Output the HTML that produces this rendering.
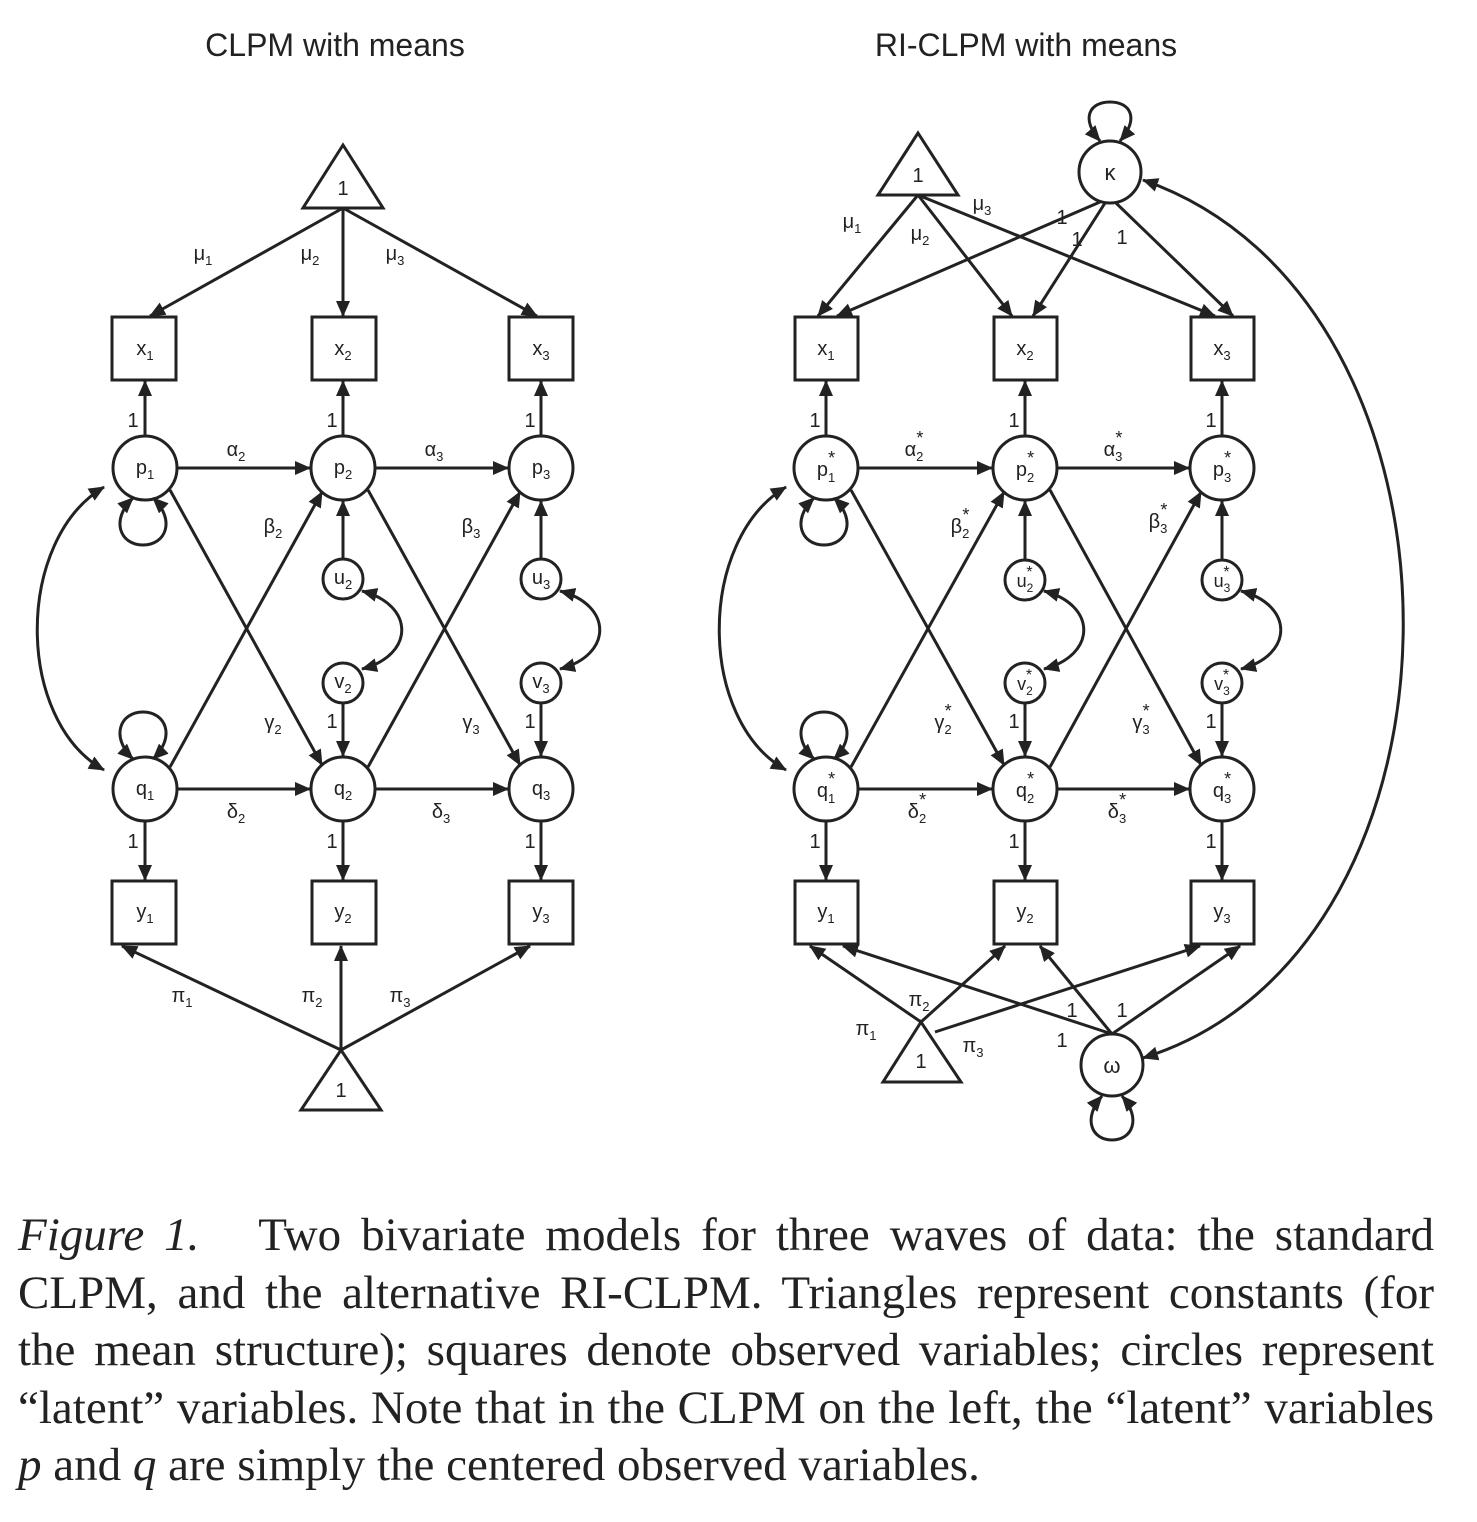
<!DOCTYPE html>
<html><head><meta charset="utf-8"><style>
body{margin:0;background:#fff;width:1477px;height:1522px;overflow:hidden}
svg{position:absolute;left:0;top:0}
.cap{position:absolute;left:18px;top:1207px;width:1416px;font-family:"Liberation Serif",serif;font-size:47px;line-height:57.5px;color:#222}
.cap div{text-align:justify;text-align-last:justify;white-space:nowrap}
.cap div.l{text-align-last:left}
</style></head><body>
<svg width="1477" height="1200" viewBox="0 0 1477 1200" font-family="Liberation Sans, DejaVu Sans, sans-serif" fill="#222">
<defs>
<marker id="b" markerWidth="16" markerHeight="14" refX="15" refY="7" orient="auto-start-reverse" markerUnits="userSpaceOnUse"><path d="M0,0 L16,7 L0,14 z" fill="#222"/></marker></defs>
<text x="335" y="56" font-size="32" text-anchor="middle">CLPM with means</text>
<text x="1026" y="56" font-size="32" text-anchor="middle">RI-CLPM with means</text>
<g stroke="#222" stroke-width="3" fill="none">
<polygon points="343,145 303,208 383,208" fill="#fff"/>
<polygon points="341,1050 301,1110 381,1110" fill="#fff"/>
<rect x="112" y="317" width="64" height="63"/><rect x="312" y="317" width="64" height="63"/><rect x="509" y="317" width="64" height="63"/>
<rect x="112" y="881" width="64" height="63"/><rect x="312" y="881" width="64" height="63"/><rect x="509" y="881" width="64" height="63"/>
<circle cx="145" cy="468" r="32"/><circle cx="343" cy="468" r="32"/><circle cx="541" cy="468" r="32"/>
<circle cx="145" cy="789" r="32"/><circle cx="343" cy="789" r="32"/><circle cx="541" cy="789" r="32"/>
<circle cx="343" cy="579" r="20"/><circle cx="343" cy="683" r="20"/><circle cx="541" cy="579" r="20"/><circle cx="541" cy="683" r="20"/>
<g marker-end="url(#b)">
<line x1="343" y1="208" x2="150" y2="316"/><line x1="343" y1="208" x2="343" y2="316"/><line x1="343" y1="208" x2="537" y2="316"/>
<line x1="145" y1="436" x2="145" y2="381"/><line x1="343" y1="436" x2="343" y2="381"/><line x1="541" y1="436" x2="541" y2="381"/>
<line x1="177" y1="468" x2="310" y2="468"/><line x1="375" y1="468" x2="508" y2="468"/>
<line x1="177" y1="789" x2="310" y2="789"/><line x1="375" y1="789" x2="508" y2="789"/>
<line x1="170" y1="490" x2="322" y2="765"/><line x1="170" y1="767" x2="322" y2="492"/>
<line x1="368" y1="490" x2="520" y2="765"/><line x1="368" y1="767" x2="520" y2="492"/>
<line x1="343" y1="559" x2="343" y2="501"/><line x1="541" y1="559" x2="541" y2="501"/>
<line x1="343" y1="703" x2="343" y2="756"/><line x1="541" y1="703" x2="541" y2="756"/>
<line x1="145" y1="821" x2="145" y2="880"/><line x1="343" y1="821" x2="343" y2="880"/><line x1="541" y1="821" x2="541" y2="880"/>
<line x1="341" y1="1050" x2="122" y2="946"/><line x1="341" y1="1050" x2="341" y2="946"/><line x1="341" y1="1050" x2="530" y2="946"/>
</g>
<g marker-start="url(#b)" marker-end="url(#b)">
<path d="M104,487 C15,540 15,720 104,770"/>
<path d="M362,591 C415,605 415,655 362,669"/><path d="M560,591 C613,605 613,655 560,669"/>
<path d="M133,498 C110,520 120,545 143,545 C166,545 176,520 153,498"/>
<path d="M133,759 C110,737 120,712 143,712 C166,712 176,737 153,759"/>
<path d="M814,498 C791,520 801,545 824,545 C847,545 857,520 834,498"/>
<path d="M814,759 C791,737 801,712 824,712 C847,712 857,737 834,759"/>
<path d="M1044,591 C1097,605 1097,655 1044,669"/><path d="M1241,591 C1294,605 1294,655 1241,669"/>
<path d="M1100,141 C1080,118 1090,102 1110,102 C1130,102 1140,118 1120,141"/>
<path d="M1102,1096 C1082,1119 1092,1140 1112,1140 C1132,1140 1142,1119 1122,1096"/>
<path d="M1143,180 C1490,300 1490,950 1143,1058"/>
<path d="M786,487 C697,540 697,720 786,770"/>
</g>
<polygon points="918,133 878,195 958,195" fill="#fff"/>
<polygon points="921,1022 883,1082 961,1082" fill="#fff"/>
<circle cx="1110" cy="172" r="31" fill="#fff"/><circle cx="1112" cy="1065" r="31" fill="#fff"/>
<rect x="795" y="317" width="63" height="63"/><rect x="994" y="317" width="63" height="63"/><rect x="1191" y="317" width="63" height="63"/>
<rect x="795" y="881" width="63" height="63"/><rect x="994" y="881" width="63" height="63"/><rect x="1191" y="881" width="63" height="63"/>
<circle cx="826" cy="468" r="32"/><circle cx="1025" cy="468" r="32"/><circle cx="1222" cy="468" r="32"/>
<circle cx="826" cy="789" r="32"/><circle cx="1025" cy="789" r="32"/><circle cx="1222" cy="789" r="32"/>
<circle cx="1025" cy="580" r="20"/><circle cx="1025" cy="683" r="20"/><circle cx="1222" cy="580" r="20"/><circle cx="1222" cy="683" r="20"/>
<g marker-end="url(#b)">
<line x1="918" y1="195" x2="818" y2="316"/><line x1="918" y1="195" x2="1012" y2="316"/><line x1="918" y1="195" x2="1215" y2="316"/>
<line x1="1100" y1="202" x2="837" y2="316"/><line x1="1105" y1="203" x2="1033" y2="316"/><line x1="1116" y1="203" x2="1233" y2="316"/>
<line x1="826" y1="436" x2="826" y2="381"/><line x1="1025" y1="436" x2="1025" y2="381"/><line x1="1222" y1="436" x2="1222" y2="381"/>
<line x1="858" y1="468" x2="992" y2="468"/><line x1="1057" y1="468" x2="1189" y2="468"/>
<line x1="858" y1="789" x2="992" y2="789"/><line x1="1057" y1="789" x2="1189" y2="789"/>
<line x1="851" y1="490" x2="1004" y2="765"/><line x1="851" y1="767" x2="1004" y2="492"/>
<line x1="1050" y1="490" x2="1201" y2="765"/><line x1="1050" y1="767" x2="1201" y2="492"/>
<line x1="1025" y1="560" x2="1025" y2="501"/><line x1="1222" y1="560" x2="1222" y2="501"/>
<line x1="1025" y1="703" x2="1025" y2="756"/><line x1="1222" y1="703" x2="1222" y2="756"/>
<line x1="826" y1="821" x2="826" y2="880"/><line x1="1025" y1="821" x2="1025" y2="880"/><line x1="1222" y1="821" x2="1222" y2="880"/>
<line x1="921" y1="1022" x2="810" y2="946"/><line x1="921" y1="1022" x2="1005" y2="946"/><line x1="935" y1="1032" x2="1200" y2="946"/>
<line x1="1112" y1="1034" x2="843" y2="946"/><line x1="1112" y1="1034" x2="1040" y2="946"/><line x1="1112" y1="1034" x2="1240" y2="946"/>
</g>
</g>
<g font-size="20" text-anchor="middle">
<text x="343" y="195">1</text><text x="341" y="1097">1</text><text x="918" y="182">1</text><text x="921" y="1068">1</text>
<text x="1110" y="180" font-size="22">κ</text><text x="1112" y="1073" font-size="22">ω</text>
<text x="145" y="355">x<tspan font-size="13" dy="5">1</tspan></text><text x="343" y="355">x<tspan font-size="13" dy="5">2</tspan></text><text x="541" y="355">x<tspan font-size="13" dy="5">3</tspan></text>
<text x="145" y="918">y<tspan font-size="13" dy="5">1</tspan></text><text x="343" y="918">y<tspan font-size="13" dy="5">2</tspan></text><text x="541" y="918">y<tspan font-size="13" dy="5">3</tspan></text>
<text x="145" y="474">p<tspan font-size="13" dy="5">1</tspan></text><text x="343" y="474">p<tspan font-size="13" dy="5">2</tspan></text><text x="541" y="474">p<tspan font-size="13" dy="5">3</tspan></text>
<text x="145" y="795">q<tspan font-size="13" dy="5">1</tspan></text><text x="343" y="795">q<tspan font-size="13" dy="5">2</tspan></text><text x="541" y="795">q<tspan font-size="13" dy="5">3</tspan></text>
<text x="343" y="584">u<tspan font-size="13" dy="5">2</tspan></text><text x="541" y="584">u<tspan font-size="13" dy="5">3</tspan></text>
<text x="343" y="688">v<tspan font-size="13" dy="5">2</tspan></text><text x="541" y="688">v<tspan font-size="13" dy="5">3</tspan></text>
<text x="203" y="260">μ<tspan font-size="13" dy="5">1</tspan></text><text x="310" y="260">μ<tspan font-size="13" dy="5">2</tspan></text><text x="395" y="260">μ<tspan font-size="13" dy="5">3</tspan></text>
<text x="133" y="427">1</text><text x="332" y="427">1</text><text x="530" y="427">1</text>
<text x="133" y="848">1</text><text x="332" y="848">1</text><text x="530" y="848">1</text>
<text x="332" y="728">1</text><text x="530" y="728">1</text>
<text x="236" y="456">α<tspan font-size="13" dy="5">2</tspan></text><text x="434" y="456">α<tspan font-size="13" dy="5">3</tspan></text>
<text x="236" y="818">δ<tspan font-size="13" dy="5">2</tspan></text><text x="441" y="818">δ<tspan font-size="13" dy="5">3</tspan></text>
<text x="273" y="533">β<tspan font-size="13" dy="5">2</tspan></text><text x="471" y="533">β<tspan font-size="13" dy="5">3</tspan></text>
<text x="273" y="729">γ<tspan font-size="13" dy="5">2</tspan></text><text x="471" y="729">γ<tspan font-size="13" dy="5">3</tspan></text>
<text x="182" y="1002">π<tspan font-size="13" dy="5">1</tspan></text><text x="312" y="1002">π<tspan font-size="13" dy="5">2</tspan></text><text x="400" y="1002">π<tspan font-size="13" dy="5">3</tspan></text>
<text x="826" y="355">x<tspan font-size="13" dy="5">1</tspan></text><text x="1025" y="355">x<tspan font-size="13" dy="5">2</tspan></text><text x="1222" y="355">x<tspan font-size="13" dy="5">3</tspan></text>
<text x="826" y="918">y<tspan font-size="13" dy="5">1</tspan></text><text x="1025" y="918">y<tspan font-size="13" dy="5">2</tspan></text><text x="1222" y="918">y<tspan font-size="13" dy="5">3</tspan></text>
<text x="826" y="476">p<tspan font-size="13" dy="6">1</tspan><tspan font-size="18" dx="-7" dy="-18">*</tspan></text>
<text x="1025" y="476">p<tspan font-size="13" dy="6">2</tspan><tspan font-size="18" dx="-7" dy="-18">*</tspan></text>
<text x="1222" y="476">p<tspan font-size="13" dy="6">3</tspan><tspan font-size="18" dx="-7" dy="-18">*</tspan></text>
<text x="826" y="797">q<tspan font-size="13" dy="6">1</tspan><tspan font-size="18" dx="-7" dy="-18">*</tspan></text>
<text x="1025" y="797">q<tspan font-size="13" dy="6">2</tspan><tspan font-size="18" dx="-7" dy="-18">*</tspan></text>
<text x="1222" y="797">q<tspan font-size="13" dy="6">3</tspan><tspan font-size="18" dx="-7" dy="-18">*</tspan></text>
<text x="1025" y="587" font-size="18">u<tspan font-size="12" dy="5">2</tspan><tspan font-size="16" dx="-7" dy="-15">*</tspan></text>
<text x="1222" y="587" font-size="18">u<tspan font-size="12" dy="5">3</tspan><tspan font-size="16" dx="-7" dy="-15">*</tspan></text>
<text x="1025" y="690" font-size="18">v<tspan font-size="12" dy="5">2</tspan><tspan font-size="16" dx="-7" dy="-15">*</tspan></text>
<text x="1222" y="690" font-size="18">v<tspan font-size="12" dy="5">3</tspan><tspan font-size="16" dx="-7" dy="-15">*</tspan></text>
<text x="852" y="228">μ<tspan font-size="13" dy="5">1</tspan></text><text x="920" y="240">μ<tspan font-size="13" dy="5">2</tspan></text><text x="982" y="210">μ<tspan font-size="13" dy="5">3</tspan></text>
<text x="1062" y="224">1</text><text x="1077" y="246">1</text><text x="1122" y="244">1</text>
<text x="815" y="427">1</text><text x="1014" y="427">1</text><text x="1211" y="427">1</text>
<text x="815" y="848">1</text><text x="1014" y="848">1</text><text x="1211" y="848">1</text>
<text x="1014" y="728">1</text><text x="1211" y="728">1</text>
<text x="914" y="456">α<tspan font-size="13" dy="5">2</tspan><tspan font-size="18" dx="-7" dy="-17">*</tspan></text>
<text x="1113" y="456">α<tspan font-size="13" dy="5">3</tspan><tspan font-size="18" dx="-7" dy="-17">*</tspan></text>
<text x="917" y="818">δ<tspan font-size="13" dy="5">2</tspan><tspan font-size="18" dx="-7" dy="-17">*</tspan></text>
<text x="1117" y="818">δ<tspan font-size="13" dy="5">3</tspan><tspan font-size="18" dx="-7" dy="-17">*</tspan></text>
<text x="960" y="533">β<tspan font-size="13" dy="5">2</tspan><tspan font-size="18" dx="-7" dy="-17">*</tspan></text>
<text x="1158" y="528">β<tspan font-size="13" dy="5">3</tspan><tspan font-size="18" dx="-7" dy="-17">*</tspan></text>
<text x="943" y="729">γ<tspan font-size="13" dy="5">2</tspan><tspan font-size="18" dx="-7" dy="-17">*</tspan></text>
<text x="1141" y="729">γ<tspan font-size="13" dy="5">3</tspan><tspan font-size="18" dx="-7" dy="-17">*</tspan></text>
<text x="866" y="1035">π<tspan font-size="13" dy="5">1</tspan></text><text x="919" y="1006">π<tspan font-size="13" dy="5">2</tspan></text><text x="973" y="1052">π<tspan font-size="13" dy="5">3</tspan></text>
<text x="1072" y="1017">1</text><text x="1122" y="1017">1</text><text x="1062" y="1047">1</text>
</g>
</svg>
<div class="cap">
<div><i>Figure 1.</i>&nbsp;&nbsp; Two bivariate models for three waves of data: the standard</div>
<div>CLPM, and the alternative RI-CLPM. Triangles represent constants (for</div>
<div>the mean structure); squares denote observed variables; circles represent</div>
<div>“latent” variables. Note that in the CLPM on the left, the “latent” variables</div>
<div class="l"><i>p</i> and <i>q</i> are simply the centered observed variables.</div>
</div>
</body></html>
